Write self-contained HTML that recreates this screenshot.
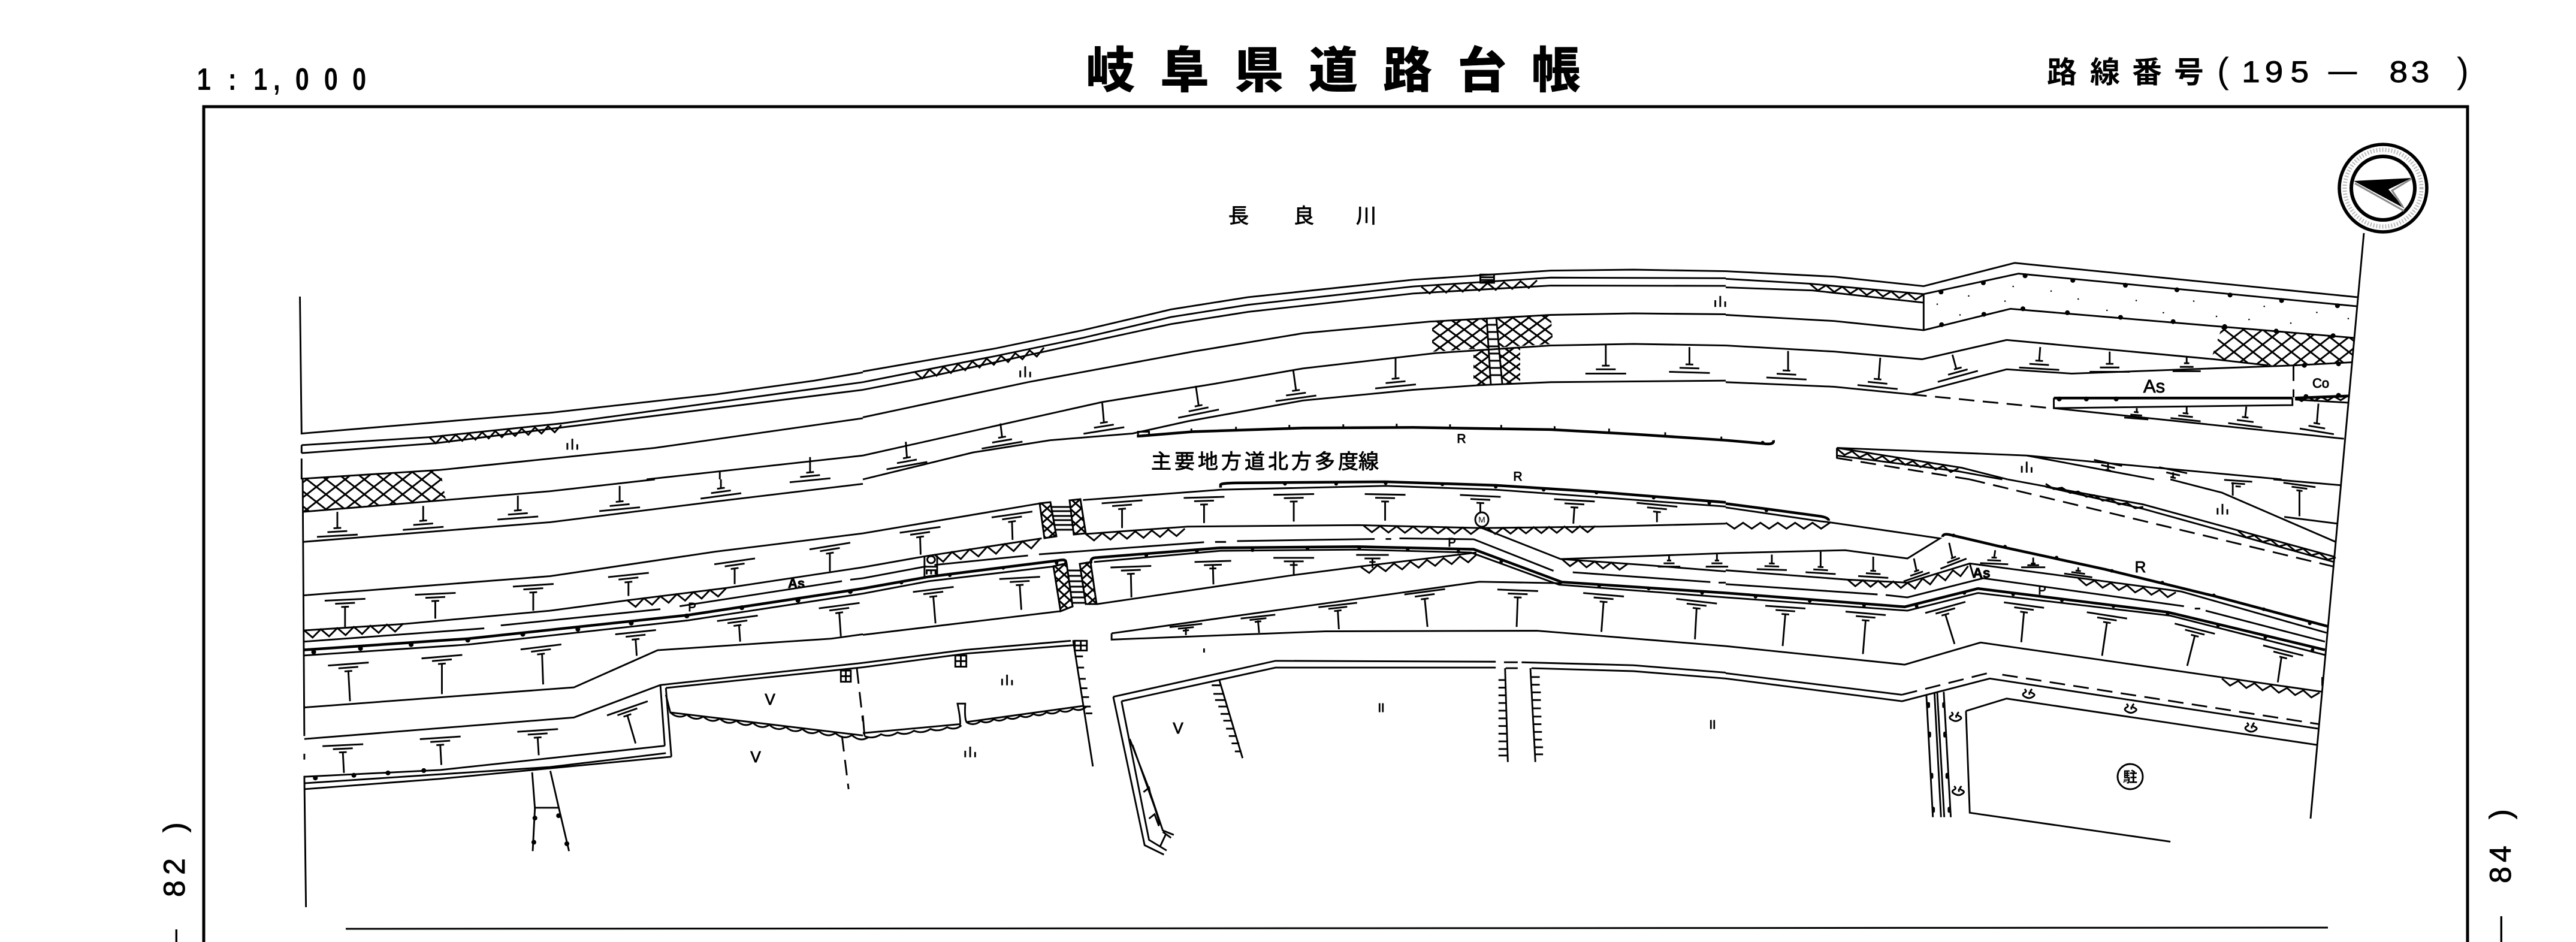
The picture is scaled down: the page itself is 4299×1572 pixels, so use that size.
<!DOCTYPE html>
<html lang="ja"><head><meta charset="utf-8"><title>岐阜県道路台帳</title>
<style>
html,body{margin:0;padding:0;background:#fff;width:4299px;height:1572px;overflow:hidden}
svg{display:block}
path,rect,ellipse,circle,polygon{vector-effect:non-scaling-stroke}
.l{fill:none;stroke:#000;stroke-width:2.9}
.k{fill:none;stroke:#000;stroke-width:4.5}
.d{fill:none;stroke:#000;stroke-width:8;stroke-linecap:round}
.s{fill:none;stroke:#000;stroke-width:2.5;stroke-linecap:round}
.da{fill:none;stroke:#000;stroke-width:2.9;stroke-dasharray:26 14}
text{font-family:"Liberation Sans","Noto Sans CJK JP",sans-serif;fill:#000;stroke:none}
text.b{stroke:#000;stroke-width:.9}
.m{text-anchor:middle}
</style></head><body>
<svg width="4299" height="1572" viewBox="0 0 4299 1572" xmlns="http://www.w3.org/2000/svg">
<defs>
<pattern id="h" width="27" height="20" patternUnits="userSpaceOnUse"><path d="M0 0L27 20M27 0L0 20" fill="none" stroke="#000" stroke-width="3"/></pattern>
<pattern id="h3" width="23" height="17" patternUnits="userSpaceOnUse"><path d="M0 0L23 17M23 0L0 17" fill="none" stroke="#000" stroke-width="3"/></pattern>
<pattern id="h4" width="32" height="25" patternUnits="userSpaceOnUse"><path d="M0 0L32 25M32 0L0 25" fill="none" stroke="#000" stroke-width="2.9"/></pattern>
<pattern id="h2" width="19" height="17" patternUnits="userSpaceOnUse" patternTransform="translate(1738 840)"><path d="M0 0L19 17M19 0L0 17" fill="none" stroke="#000" stroke-width="3"/></pattern>
<path id="T" vector-effect="non-scaling-stroke" d="M-7 0H7M-18 -12H18M-37 -24H37"/>
<path id="B" vector-effect="non-scaling-stroke" d="M-7 0H7M-18 12H18M-37 26H37"/>
<path id="P" vector-effect="non-scaling-stroke" d="M-9 -6V16M0 -20V16M9 -2V16"/>
<path id="C" vector-effect="non-scaling-stroke" d="M-9 -17q6 8 -1 13q-5 7 3 14q7 7 13 -1q7 -7 -1 -13q-6 -5 0 -13M0 -8v10"/>
</defs>

<rect width="4299" height="1572" fill="#fff"/>

<!-- frame -->
<path d="M340 1572V178H4118V1572" fill="none" stroke="#000" stroke-width="5"/>

<!-- hatch zones -->
<g stroke="none">
<polygon fill="url(#h4)" points="505,798 735,785 744,834 505,854"/>
<polygon fill="url(#h)" points="2390,538 2588,525 2592,574 2390,587"/>
<polygon fill="url(#h3)" points="2459,587 2537,579 2537,639 2459,644"/>
<polygon fill="url(#h4)" points="3708,546 3928,564 3925,605 3785,610 3690,599"/>
</g>
<g stroke="#000" stroke-width="3" fill="url(#h2)">
<polygon points="1735,840 1753,838 1763,895 1743,898"/>
<polygon points="1785,835 1803,833 1812,890 1792,892"/>
<polygon points="1758,945 1780,940 1790,1012 1770,1020"/>
<polygon points="1802,941 1820,938 1830,1008 1812,1008"/>
</g>
<polygon points="2481,530 2497,530 2507,640 2488,642" fill="#fff"/>
<path class="l" d="M2481 530L2488 642M2497 530L2507 640M2482 542H2498M2483 554H2499M2483 566H2500M2484 578H2501M2485 590H2502M2486 602H2503M2486 614H2504M2487 626H2505"/>
<path class="l" d="M1754 846H1786M1756 853H1787M1757 861H1788M1758 868H1789M1760 876H1790M1761 884H1791M1781 952H1803M1783 961H1805M1784 970H1806M1785 979H1807M1787 988H1809M1788 997H1810M1789 1006H1811"/>

<!-- crop 1 -->
<g transform="scale(.9184 .5102)">
<path class="l" d="M545 970L548 1418L1000 1350L1300 1290L1480 1245L1568 1218M548 1456L780 1430L1020 1385L1568 1250M548 1482L790 1450L1568 1275M548 1456V1482M548 1500V1568M548 1566L800 1537L1190 1465L1568 1368M1175 1568L1568 1490M1472 1495V1545M1308 1540V1568"/>
<path class="l" d="M780 1430l12 20 12 -24 12 20 12 -24 12 20 12 -24 12 20 12 -24 12 20 12 -24 12 20 12 -24 12 20 12 -24 12 20 12 -24 12 20 12 -24 12 20 12 -24"/>
<use href="#P" class="l" x="1040" y="1455"/>
<use href="#B" class="l" transform="translate(1472 1545) skewY(-10)"/>
</g>

<!-- crop 2 -->
<g transform="translate(1440 0) scale(.9184 .5102)">
<path class="l" d="M0 1215L240 1140L400 1080L560 1012L700 972L1000 915L1250 885L1400 882L1568 887M0 1250L240 1165L400 1105L560 1037L700 997L1000 937L1250 908L1568 910M0 1275L100 1240L330 1150L560 1060L700 1020L1000 960L1250 934L1568 935M0 1365L300 1250L600 1150L800 1090L1030 1052L1250 1030L1400 1025L1568 1028M0 1490L435 1315L640 1255L800 1205L1040 1155L1250 1130L1400 1125L1568 1130M0 1568L200 1480L340 1440L490 1418L590 1378L800 1310L1000 1275L1120 1260L1250 1250L1568 1245"/>
<path class="k" d="M498 1427L600 1412L800 1400L1000 1398L1250 1405L1400 1420L1568 1440"/>
<path class="l" d="M500 1425V1412H520V1420M597 1412V1402M678 1406V1396M775 1400V1390M873 1398V1388M970 1398V1386M1067 1398V1388M1160 1400V1390M1257 1404V1394M1356 1412V1402M1458 1424V1414M1560 1438V1428"/>
<path class="l" d="M95 1218l13 20 13 -29 13 20 13 -29 13 20 13 -29 13 20 13 -29 13 20 13 -29 13 20 13 -29 13 20 13 -29 13 20 13 -29 13 20 13 -29"/>
<path class="l" d="M1015 938l15 22 15 -25 15 22 15 -25 15 22 15 -25 15 22 15 -25 15 22 15 -25 15 22 15 -25 15 22 15 -25"/>
<path class="l" d="M1122 898H1147V925H1122ZM1122 907H1147M1122 916H1147"/>
<path class="l" d="M78 1445L80 1495M250 1385L253 1430M435 1318L438 1380M605 1262L610 1325M782 1210L787 1275M968 1170V1235M1350 1128V1195M1502 1135V1190"/>
<use href="#B" class="l" transform="translate(80 1497) skewY(-18)"/>
<use href="#B" class="l" transform="translate(253 1430) skewY(-17)"/>
<use href="#B" class="l" transform="translate(438 1382) skewY(-16)"/>
<use href="#B" class="l" transform="translate(610 1327) skewY(-20)"/>
<use href="#B" class="l" transform="translate(787 1277) skewY(-14)"/>
<use href="#B" class="l" transform="translate(968 1238) skewY(-10)"/>
<use href="#B" class="l" transform="translate(1350 1196)"/>
<use href="#B" class="l" transform="translate(1502 1192) skewY(3)"/>
<use href="#P" class="l" x="295" y="1218"/>
<use href="#P" class="l" x="1558" y="988"/>
</g>

<!-- crop 3 -->
<g transform="translate(2880 0) scale(.905 .5102)">
<path class="k" d="M0 1440L70 1451Q90 1456 88 1440"/>
<path class="d" style="stroke-width:6" d="M68 1448h.1"/>
<path class="l" d="M0 887L200 905L365 936L533 860L1165 972M0 912L155 928L365 962L540 895L1165 1002M0 940L160 950L365 990M365 962V1080M0 1030L200 1050L365 1080L525 1010L1158 1105M0 1130L200 1150L362 1175L518 1112L900 1175L1000 1195M0 1250L200 1265L342 1290L518 1208L638 1222L1050 1195L1155 1185M605 1335L1140 1435M1050 1307L1147 1317"/>
<path class="da" d="M342 1290L600 1335M1047 1195V1300"/>
<path class="k" d="M605 1302H1045M1050 1302L1148 1295"/>
<path class="l" d="M605 1302V1335L1045 1325V1302"/>
<path class="l" d="M155 928l15 22 15 -17 15 22 15 -17 15 22 15 -17 15 22 15 -17 15 22 15 -17 15 22 15 -17 15 22 15 -17"/>
<path class="l" d="M1050 1300l12 12 12 -13 12 12 12 -13 12 12 12 -13 12 12 12 -13"/>
<path class="l" d="M205 1465L555 1490L1025 1568M555 1490L790 1568M205 1465V1500M205 1490L430 1542L510 1568M205 1465L435 1530L520 1568"/>
<path class="da" d="M205 1498L450 1568"/>
<path class="l" d="M205 1468l14 20 14 -12 14 20 14 -12 14 20 14 -12 14 20 14 -12 14 20 14 -12 14 20 14 -12 14 20 14 -12 14 20 14 -12"/>
<path class="d" d="M397 955h.1M475 925h.1M552 902h.1M640 917h.1M737 933h.1M832 948h.1M930 965h.1M1025 983h.1M1128 1000h.1M398 1062h.1M476 1028h.1M548 1010h.1M630 1023h.1M728 1038h.1M825 1052h.1M920 1068h.1M1015 1083h.1M1120 1098h.1M615 1305h.1M665 1305h.1M720 1305h.1M1070 1297h.1M1130 1293h.1M1067 1195h.1M1130 1190h.1"/>
<path class="s" d="M448 968h.1M390 995h.1M530 937h.1M515 985h.1M600 952h.1M650 978h.1M703 1015h.1M757 983h.1M807 1023h.1M863 985h.1M905 1035h.1M965 1045h.1M993 1002h.1M1042 1057h.1M1090 1022h.1M1148 1042h.1M432 1030h.1"/>
<path class="l" d="M115 1148V1210M285 1170L282 1240M418 1160L425 1205M580 1135L578 1180M708 1150V1190M850 1165V1190M758 1335V1350M850 1330V1352M960 1330L958 1365M1093 1320L1090 1385M705 1515V1540M825 1545V1565"/>
<use href="#B" class="l" transform="translate(112 1212) skewY(5)"/>
<use href="#B" class="l" transform="translate(280 1240) skewY(10)"/>
<use href="#B" class="l" transform="translate(428 1205) skewY(-26)"/>
<use href="#B" class="l" transform="translate(578 1180) skewY(6)"/>
<use href="#B" class="l" transform="translate(708 1190)"/>
<use href="#B" class="l" transform="translate(850 1188) scale(.7 1)"/>
<use href="#B" class="l" transform="translate(757 1348) scale(.6 .8) skewY(6)"/>
<use href="#B" class="l" transform="translate(848 1352) scale(.75 .8) skewY(10)"/>
<use href="#B" class="l" transform="translate(958 1365) scale(.85 1) skewY(11)"/>
<use href="#B" class="l" transform="translate(1090 1385) scale(.85 1) skewY(14)"/>
<use href="#T" class="l" transform="translate(705 1538) scale(.7 1) skewY(15)"/>
<use href="#T" class="l" transform="translate(825 1562) scale(.7 1) skewY(15)"/>
<use href="#P" class="l" x="555" y="1530"/>
</g>

<!-- crop 4 -->
<g transform="translate(0 800) scale(.9184 .4923)">
<path class="l" d="M550 0L553 870M553 930V950M553 1005L556 1450"/>
<path class="l" d="M550 110L810 70L1000 40L1190 0M550 212L1000 145L1300 75L1568 15M552 393L1000 328L1300 245L1568 183M552 512L735 490L1000 445L1140 410L1320 368L1568 298M552 550L880 505M910 495L1200 440M1235 430L1530 345M1545 340L1568 335"/>
<path class="k" d="M552 578L850 540L1250 460L1568 370"/>
<path class="l" d="M552 597L850 560L1250 478L1568 387"/>
<path class="l" d="M553 773L1043 705L1195 579L1510 540L1568 525M553 880L1043 807L1200 697L1568 622M1210 707L1568 637M1200 697L1208 903M1210 707L1220 940M553 1008L800 985L1208 903M553 1030L1000 975L1210 928M553 1050L800 1015L1220 940"/>
<path class="l" d="M967 993L972 1115L968 1260M1000 988L1015 1110L1034 1260M972 1113H1015"/>
<path class="l" d="M553 512l15 24 15 -28 15 24 15 -28 15 24 15 -28 15 24 15 -28 15 24 15 -28 15 24 15 -28"/>
<path class="l" d="M1140 410l15 22 15 -29 15 22 15 -29 15 22 15 -29 15 22 15 -29 15 22 15 -29 15 22 15 -29"/>
<path class="d" d="M570 585h.1M655 573h.1M747 560h.1M850 545h.1M950 525h.1M1050 508h.1M1147 487h.1M1248 463h.1M1348 435h.1M1450 410h.1M1545 380h.1M573 1012h.1M643 1003h.1M705 995h.1M770 987h.1M972 1148h.1M970 1230h.1M1015 1140h.1M1030 1235h.1"/>
<path class="l" d="M1210 730L1218 790L1568 868M1218 790q15 25 30 7q15 25 30 7q15 25 30 7q15 25 30 7q15 25 30 7q15 25 30 7q15 25 30 7q15 25 30 7q15 25 30 7q15 25 30 7q15 25 30 7q15 25 30 7"/>
<path class="da" d="M1530 870L1542 1050M1557 640L1568 820"/>
<path class="l" d="M1528 648H1546V686H1528ZM1537 648V686M1528 667H1546"/>
<path class="l" d="M627 432V500M791 412V472M969 383V445M1142 348V395M1335 302V355M1508 250V312M633 650L636 752M803 625V728M985 592L987 695M1155 542L1157 598M1343 495L1345 550M1525 452L1528 532M623 925L625 995M800 900L802 968M977 875L979 935M1140 800L1155 895M613 110V165M769 90V140M941 55V105M1126 22V75M1310 0V30"/>
<use href="#T" class="l" transform="translate(627 432) skewY(-5)"/>
<use href="#T" class="l" transform="translate(791 412) skewY(-5)"/>
<use href="#T" class="l" transform="translate(969 383) skewY(-7)"/>
<use href="#T" class="l" transform="translate(1142 348) skewY(-11)"/>
<use href="#T" class="l" transform="translate(1335 302) skewY(-15)"/>
<use href="#T" class="l" transform="translate(1508 250) skewY(-17)"/>
<use href="#T" class="l" transform="translate(633 650) skewY(-8)"/>
<use href="#T" class="l" transform="translate(803 625) skewY(-9)"/>
<use href="#T" class="l" transform="translate(983 592) skewY(-13)"/>
<use href="#T" class="l" transform="translate(1155 542) skewY(-11)"/>
<use href="#T" class="l" transform="translate(1340 495) skewY(-14)"/>
<use href="#T" class="l" transform="translate(1525 452) skewY(-14)"/>
<use href="#T" class="l" transform="translate(623 925) skewY(-5)"/>
<use href="#T" class="l" transform="translate(800 900) skewY(-7)"/>
<use href="#T" class="l" transform="translate(977 875) skewY(-7)"/>
<use href="#T" class="l" transform="translate(1140 800) skewY(-33)"/>
<use href="#B" class="l" transform="translate(613 165) skewY(-6)"/>
<use href="#B" class="l" transform="translate(769 140) skewY(-8)"/>
<use href="#B" class="l" transform="translate(941 105) skewY(-8)"/>
<use href="#B" class="l" transform="translate(1126 75) skewY(-10)"/>
<use href="#B" class="l" transform="translate(1310 30) skewY(-14)"/>
</g>

<!-- crop 5 -->
<g transform="translate(1440 800) scale(.9184 .4923)">
<path class="l" d="M0 183L320 82M400 70L650 35L950 22L1150 35L1350 62L1568 92"/>
<path class="k" d="M650 28V18Q650 13 680 12L950 8L1150 20L1333 42L1568 78"/>
<path class="d" style="stroke-width:6" d="M767 15h.1M860 15h.1M950 13h.1M1053 17h.1M1150 25h.1M1237 35h.1M1333 45h.1M1437 62h.1M1538 80h.1M515 258h.1M607 245h.1M708 240h.1M808 235h.1M902 232h.1M990 237h.1M1082 245h.1M70 350h.1M158 325h.1M255 300h.1M352 283h.1M1160 278h.1M1338 360h.1M1428 370h.1M1525 385h.1"/>
<path class="l" d="M0 298L115 260L325 200M405 185L590 160L900 155L1125 165L1340 160L1568 150M1125 165L1268 270L1568 250M1268 270L1420 290L1568 312"/>
<path class="l" d="M0 335L115 295M130 290L300 258M320 254L620 213M640 212H660M680 209L930 202M950 202H960M975 200L1110 203L1255 310M1290 315L1540 348M1555 350H1568"/>
<path class="k" d="M0 370L120 330L355 275Q372 268 368 285M415 285Q412 265 425 265L650 232L900 228L1110 237L1270 348L1568 385"/>
<path class="l" d="M0 387L120 345L348 295M420 280L650 242L900 238L1105 248L1265 357L1568 400"/>
<path class="l" d="M0 527L358 447M425 423L780 325L905 295L1070 258L1115 248"/>
<path class="l" d="M452 522L1120 347L1270 352M452 522V543L840 515L1225 513L1568 565"/>
<path class="l" d="M130 255l16 24 16 -33 16 24 16 -33 16 24 16 -33 16 24 16 -33 16 24 16 -33 16 24 16 -33"/>
<path class="l" d="M405 185l15 22 15 -25 15 22 15 -25 15 22 15 -25 15 22 15 -25 15 22 15 -25 15 22 15 -25"/>
<path class="l" d="M910 157l15 22 15 -21 15 22 15 -21 15 22 15 -21 15 22 15 -21 15 22 15 -21 15 22 15 -21 15 22 15 -21"/>
<path class="l" d="M1135 165l14 20 14 -21 14 20 14 -21 14 20 14 -21 14 20 14 -21 14 20 14 -21 14 20 14 -21 14 20 14 -21"/>
<path class="l" d="M905 297l15 20 15 -26 15 20 15 -26 15 20 15 -26 15 20 15 -26 15 20 15 -26 15 20 15 -26 15 20 15 -26"/>
<path class="l" d="M1270 270l15 24 15 -20 15 24 15 -20 15 24 15 -20 15 24 15 -20"/>
<path class="l" d="M112 262V330M135 258V325M112 296H135"/>
<ellipse class="l" cx="124" cy="272" rx="7" ry="12"/>
<path class="l" d="M116 322V308H132V322M124 308V322"/>
<path class="l" d="M0 622L185 578L378 547M0 637L190 590L382 562M382 545L418 973"/>
<path class="l" d="M388 600H400M390 638H402M393 676H405M396 708H408M399 738H411M402 770H414M405 793H417"/>
<path class="l" d="M385 547H407V580H385ZM396 547V580M385 563H407M168 597H188V635H168ZM178 597V635M168 616H188"/>
<path class="l" d="M0 800L3 870M0 860L175 830M190 822L400 768M3 870q15 12 30 -6q15 12 30 -6q15 12 30 -6q15 12 30 -6q15 12 30 -6q15 12 26 -6M175 835Q180 835 172 760H186Q184 830 192 825M190 825q12 12 24 -6q12 12 24 -6q12 12 24 -6q12 12 24 -6q12 12 24 -6q12 12 24 -6q12 12 24 -6q12 12 24 -6q12 12 24 -6"/>
<path class="l" d="M455 737L750 615L1150 618M1165 620H1190M1197 620L1400 630L1568 655M470 752L750 638L1150 638M1168 640H1190M1215 640L1400 650L1568 675"/>
<path class="l" d="M455 737L512 1240L547 1272M470 752L520 1222L552 1258M485 880L518 1040L545 1190L565 1205M490 900L530 1110L540 1170M510 1060L520 1045L524 1080M520 1150L530 1135L538 1175M545 1195L560 1215M540 1245L550 1205"/>
<path class="l" d="M648 682L690 945M634 698H650M637 727H654M640 748H658M646 770H662M650 795H665M655 818H670M660 845H674M665 870H678M670 895H684M676 922H688"/>
<path class="l" d="M1167 640L1172 958M1213 640L1222 958M1155 680H1168M1155 706H1168M1155 732H1169M1155 758H1169M1155 784H1169M1155 810H1170M1155 836H1170M1155 862H1170M1155 888H1171M1155 914H1171M1155 936H1171M1215 670H1230M1215 696H1230M1215 722H1232M1215 748H1232M1216 776H1232M1217 804H1233M1218 830H1233M1219 856H1234M1220 882H1234M1220 908H1236M1221 932H1236"/>
<path class="l" d="M104 195L105 255M271 143L272 205M471 100V165M620 85V148M783 75V143M949 75V140M1122 80V128M1293 95L1291 150M1443 110V145M128 397L132 488M285 358L288 442M487 320L488 400M636 290L637 356M783 280V325M926 268V300M587 505V528M718 478L720 520M863 445L865 508M1021 405L1026 500M1190 400L1188 500M1346 415L1342 517M1515 437L1512 542M1465 258V275M1552 250V275"/>
<use href="#T" class="l" transform="translate(104 195) skewY(-15)"/>
<use href="#T" class="l" transform="translate(271 143) skewY(-15)"/>
<use href="#T" class="l" transform="translate(471 100) skewY(-8)"/>
<use href="#T" class="l" transform="translate(620 85) skewY(-3)"/>
<use href="#T" class="l" transform="translate(783 75) skewY(-2)"/>
<use href="#T" class="l" transform="translate(949 75) skewY(2)"/>
<use href="#T" class="l" transform="translate(1122 80) skewY(5)"/>
<use href="#T" class="l" transform="translate(1293 95) skewY(6)"/>
<use href="#T" class="l" transform="translate(1443 110) skewY(10)"/>
<use href="#T" class="l" transform="translate(128 397) skewY(-13)"/>
<use href="#T" class="l" transform="translate(285 358) skewY(-6)"/>
<use href="#T" class="l" transform="translate(487 320) skewY(-4)"/>
<use href="#T" class="l" transform="translate(636 302) scale(.9 1) skewY(-3)"/>
<use href="#T" class="l" transform="translate(783 290)"/>
<use href="#T" class="l" transform="translate(926 280) scale(.8 1)"/>
<use href="#T" class="l" transform="translate(587 512) scale(.8 .7) skewY(-12)"/>
<use href="#T" class="l" transform="translate(718 482) scale(.85 .7) skewY(-14)"/>
<use href="#T" class="l" transform="translate(863 445) scale(.95 .8) skewY(-14)"/>
<use href="#T" class="l" transform="translate(1021 405) skewY(-14)"/>
<use href="#T" class="l" transform="translate(1190 400) skewY(4)"/>
<use href="#T" class="l" transform="translate(1346 415) skewY(9)"/>
<use href="#T" class="l" transform="translate(1515 437) skewY(12)"/>
<use href="#B" class="l" transform="translate(1465 275) scale(.55 .8)"/>
<use href="#B" class="l" transform="translate(1552 275) scale(.55 .8)"/>
<use href="#P" class="l" x="262" y="682"/>
<use href="#P" class="l" x="195" y="926"/>
<path class="l" d="M620 573V587"/>
</g>

<!-- crop 6 -->
<g transform="translate(2880 800) scale(.905 .4923)">
<path class="k" d="M0 82L75 100L175 125Q190 130 190 140M0 385L330 432L465 370L815 450L1105 578"/>
<path class="k" d="M400 195Q400 183 412 187L500 225L700 305L900 395L1110 498"/>
<path class="l" d="M0 95L175 142L190 145L395 200L335 268L220 240L0 250M0 308L225 340L335 350L450 285L840 380L1108 520M450 285L457 330"/>
<path class="l" d="M0 355L280 390M295 392L335 400L475 335L845 430M865 438H875M885 445L1105 550"/>
<path class="l" d="M0 400L335 445L465 385L820 462L1105 595M0 565L330 628L470 553L1100 720M0 657L325 730M0 675L325 752L487 675L1092 845M443 785L518 743L1090 900M443 785L450 1130L820 1228"/>
<path class="da" d="M325 730L487 655M510 662L1095 830M1100 670V700"/>
<path class="l" d="M520 0L770 85L1122 262M590 25L770 100L1122 280M820 0L915 45L1125 212M1030 127L1128 150M1010 0L1135 20"/>
<path class="da" d="M450 0L1120 295"/>
<path class="l" d="M590 15l15 18 15 -5 15 18 15 -5 15 18 15 -5 15 18 15 -5 15 18 15 -5 15 18 15 -5"/>
<path class="l" d="M945 175l15 22 15 -7 15 22 15 -7 15 22 15 -7 15 22 15 -7 15 22 15 -7 15 22 15 -7"/>
<path class="l" d="M0 147l16 20 16 -20 16 20 16 -20 16 20 16 -20 16 20 16 -20 16 20 16 -20 16 20 16 -20"/>
<path class="l" d="M225 340l14 22 14 -20 14 22 14 -20 14 22 14 -20 14 22 14 -20"/>
<path class="l" d="M335 350l14 20 14 -34 14 20 14 -34 14 20 14 -34 14 20 14 -34"/>
<path class="l" d="M650 335l15 24 15 -16 15 24 15 -16 15 24 15 -16 15 24 15 -16 15 24 15 -16 15 24 15 -16"/>
<path class="l" d="M915 675l15 24 15 -16 15 24 15 -16 15 24 15 -16 15 24 15 -16 15 24 15 -16 15 24 15 -16"/>
<path class="d" style="stroke-width:6" d="M75 105h.1M420 190h.1M515 228h.1M610 265h.1M712 310h.1M805 350h.1M900 393h.1M992 440h.1M1077 488h.1M55 398h.1M155 412h.1M255 427h.1M352 430h.1M440 385h.1M530 390h.1M620 410h.1M715 430h.1M815 455h.1M908 495h.1M995 535h.1M1082 578h.1"/>
<path class="l" d="M370 730L382 1145M385 725L397 1145M390 722L403 1145M402 720L415 1145"/>
<path class="d" style="stroke-width:5" d="M374 760v10M376 860v10M380 1000v10M383 1115v10M402 760v10M404 860v10M408 1000v10M412 1115v10"/>
<path class="l" d="M85 255V285M175 245V295M272 262V310M347 268L352 310M412 215L418 265M497 240L495 265M567 265V285M650 298V310M935 10V55M1058 38V125M110 455L105 565M258 478L253 592M405 458L422 558M550 450L545 552M703 485L694 598M865 530L851 632M1025 600L1018 688"/>
<use href="#B" class="l" transform="translate(85 285) scale(.75 .8) skewY(3)"/>
<use href="#B" class="l" transform="translate(175 297) scale(.75 .8) skewY(6)"/>
<use href="#B" class="l" transform="translate(272 310) scale(.75 .8) skewY(6)"/>
<use href="#B" class="l" transform="translate(352 310) scale(.65 .8) skewY(-27)"/>
<use href="#B" class="l" transform="translate(420 265) scale(.65 .8) skewY(-30)"/>
<use href="#B" class="l" transform="translate(495 265) scale(.7 .8) skewY(4)"/>
<use href="#B" class="l" transform="translate(567 285) scale(.6 .5)"/>
<use href="#B" class="l" transform="translate(650 310) scale(.7 .6) skewY(16)"/>
<use href="#T" class="l" transform="translate(945 24) scale(.7 .8) skewY(6)"/>
<use href="#T" class="l" transform="translate(1058 38) scale(.8 .8) skewY(14)"/>
<use href="#T" class="l" transform="translate(110 457) skewY(7)"/>
<use href="#T" class="l" transform="translate(258 478) skewY(9)"/>
<use href="#T" class="l" transform="translate(405 458) skewY(-27)"/>
<use href="#T" class="l" transform="translate(550 450) skewY(14)"/>
<use href="#T" class="l" transform="translate(703 485) skewY(16)"/>
<use href="#T" class="l" transform="translate(865 530) skewY(25)"/>
<use href="#T" class="l" transform="translate(1028 604) skewY(25)"/>
<use href="#P" class="l" x="916" y="103"/>
<use href="#C" class="l" x="560" y="728"/>
<use href="#C" class="l" x="748" y="778"/>
<use href="#C" class="l" x="970" y="842"/>
<use href="#C" class="l" x="425" y="806"/>
<use href="#C" class="l" x="430" y="1057"/>
</g>

<!-- match lines -->
<path class="l" d="M3945 389L3856 1366"/>
<path d="M577 1550L3885 1548" fill="none" stroke="#000" stroke-width="3"/>

<!-- north symbol -->
<circle cx="3977" cy="314" r="73" fill="#fff" stroke="#000" stroke-width="5.5"/>
<circle cx="3977" cy="314" r="64" fill="none" stroke="#bbb" stroke-width="7" stroke-dasharray="2 3"/>
<circle cx="3977" cy="314" r="53" fill="#fff" stroke="#000" stroke-width="6"/>
<polygon points="3928,302 4025,297 3986,316 4013,348" fill="#000"/>
<path d="M3930 306L4012 352M4025 298L3992 318L4010 345" fill="none" stroke="#888" stroke-width="3"/>

<!-- parking symbol -->
<ellipse cx="3555" cy="1296" rx="21" ry="21" fill="#fff" stroke="#000" stroke-width="2.9"/>
<text x="3555" y="1305" class="m" font-size="24" font-weight="700">駐</text>

<!-- headings -->
<g transform="scale(.8 1)"><text y="150" font-size="52" font-weight="700" x="411 476 529 570 616 676 735">1:1,000</text></g>
<text y="146" font-size="82" font-weight="900" x="1812 1936 2060 2184 2308 2432 2556">岐阜県道路台帳</text>
<text y="138" font-size="50" font-weight="700" x="3416 3488 3558 3628">路線番号</text>
<text x="3700" y="138" font-size="60">(</text>
<g transform="scale(1.1 1)"><text class="b" y="137" font-size="50" x="3401 3436 3475 3625 3658">19583</text></g>
<text class="b" x="3886" y="134" font-size="47">—</text>
<text x="4100" y="138" font-size="60">)</text>

<!-- rotated margin labels -->
<text class="b" transform="translate(308 1497) rotate(-90)" font-size="50" x="0 37 108">82)</text>
<text transform="translate(307 1601) rotate(-90)" font-size="50">—</text>
<text class="b" transform="translate(4190 1474) rotate(-90)" font-size="50" x="0 35 107">84)</text>
<text transform="translate(4187 1579) rotate(-90)" font-size="50">—</text>

<!-- map labels -->
<text class="b" y="372" font-size="34" x="2050 2159 2263">長良川</text>
<text class="b" y="782" font-size="34" x="1921 1960 1999 2038 2077 2116 2155 2194 2233">主要地方道北方多度線</text>
<text class="b" x="2439" y="739" text-anchor="middle" font-size="21">R</text>
<text class="b" x="2533" y="802" text-anchor="middle" font-size="21">R</text>
<text class="b" x="3572" y="955" text-anchor="middle" font-size="26">R</text>
<text class="b" x="3595" y="655" text-anchor="middle" font-size="31">As</text>
<text class="b" x="3873" y="647" text-anchor="middle" font-size="22">Co</text>
<text class="b" x="3307" y="964" text-anchor="middle" font-size="23" font-weight="700">As</text>
<text class="b" x="1329" y="981" text-anchor="middle" font-size="22" font-weight="700">As</text>
<text class="b" x="3408" y="992" text-anchor="middle" font-size="20">P</text>
<text class="b" x="2423" y="912" text-anchor="middle" font-size="20">P</text>
<text class="b" x="1155" y="1020" text-anchor="middle" font-size="20">P</text>
<ellipse cx="2473" cy="867" rx="11" ry="12" fill="#fff" stroke="#000" stroke-width="2.9"/>
<text x="2473" y="872" class="m" font-size="14">M</text>
<text class="b" x="1285" y="1176" text-anchor="middle" font-size="26">V</text>
<text class="b" x="1261" y="1272" text-anchor="middle" font-size="26">V</text>
<text class="b" x="1966" y="1224" text-anchor="middle" font-size="26">V</text>
<text class="b" x="2305" y="1188" text-anchor="middle" font-size="20">II</text>
<text class="b" x="2858" y="1216" text-anchor="middle" font-size="20">II</text>
</svg>
</body></html>
